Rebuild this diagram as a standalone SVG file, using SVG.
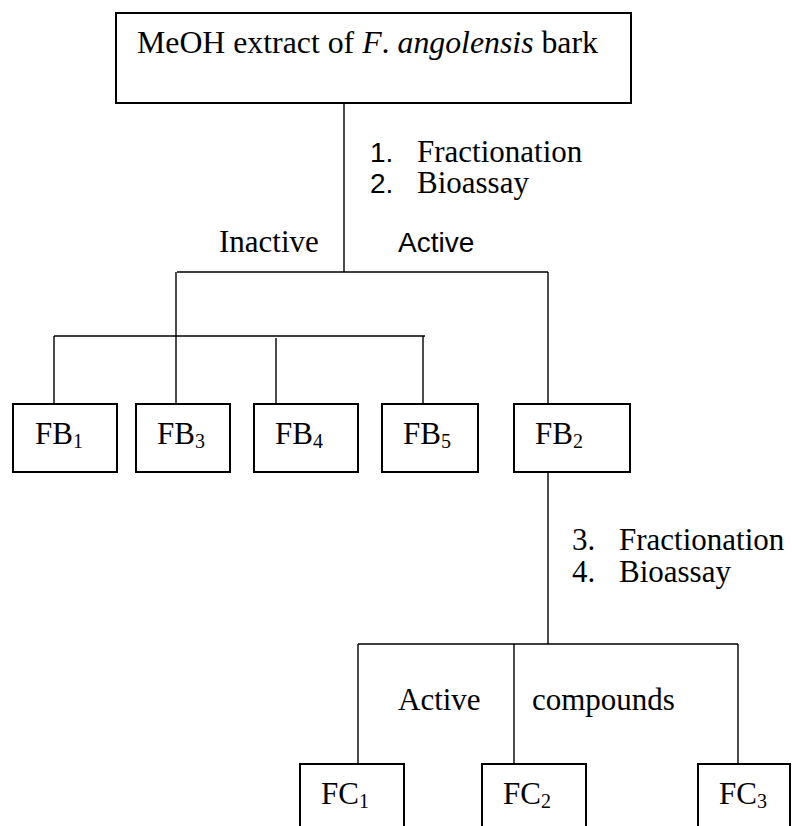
<svg xmlns="http://www.w3.org/2000/svg" width="792" height="826" viewBox="0 0 792 826">
<style>
.box{fill:#fff;stroke:#000;stroke-width:2}
.ln{fill:none;stroke:#000;stroke-width:1.4}
.t{font-family:"Liberation Serif","Times New Roman",serif;font-size:31px;fill:#000}
.s{font-family:"Liberation Sans",Arial,sans-serif;font-size:28px;fill:#000}
.sub{font-size:20px}
</style>
<rect width="792" height="826" fill="#fff"/>
<g id="connectors">
<path class="ln" d="M344 103V272M177 272H548M548 272V404"/>
<path class="ln" d="M54 336H425M54 336V404M176 272V404M276 338V404M423 336V404"/>
<path class="ln" d="M548 472V644M358 644H738M358 644V764M514 644V764M738 644V764"/>
</g>
<g id="labels">
<text class="s" x="370" y="162">1.</text>
<text class="t" x="417" y="162">Fractionation</text>
<text class="s" x="370" y="193">2.</text>
<text class="t" x="417" y="193">Bioassay</text>
<text class="t" x="219" y="252">Inactive</text>
<text class="s" x="398" y="252">Active</text>
<text class="t" x="572" y="550">3.</text>
<text class="t" x="619" y="550">Fractionation</text>
<text class="t" x="572" y="582">4.</text>
<text class="t" x="619" y="582">Bioassay</text>
<text class="t" x="398" y="710">Active</text>
<text class="t" x="532" y="710">compounds</text>
</g>
<g id="root">
<rect class="box" x="116" y="13" width="515" height="90"/>
<text class="t" x="137" y="53" style="font-size:31.8px">MeOH extract of <tspan font-style="italic">F</tspan>. <tspan font-style="italic">angolensis</tspan> bark</text>
</g>
<g id="FB1"><rect class="box" x="13" y="404" width="104" height="68"/><text class="t" x="35" y="444">FB<tspan class="sub" dy="4">1</tspan></text></g>
<g id="FB3"><rect class="box" x="136" y="404" width="94" height="68"/><text class="t" x="157" y="444">FB<tspan class="sub" dy="4">3</tspan></text></g>
<g id="FB4"><rect class="box" x="254" y="404" width="104" height="68"/><text class="t" x="275" y="444">FB<tspan class="sub" dy="4">4</tspan></text></g>
<g id="FB5"><rect class="box" x="382" y="404" width="96" height="68"/><text class="t" x="403" y="444">FB<tspan class="sub" dy="4">5</tspan></text></g>
<g id="FB2"><rect class="box" x="514" y="404" width="116" height="68"/><text class="t" x="535" y="444">FB<tspan class="sub" dy="4">2</tspan></text></g>
<g id="FC1"><rect class="box" x="300" y="764" width="104" height="80"/><text class="t" x="321" y="804">FC<tspan class="sub" dy="4">1</tspan></text></g>
<g id="FC2"><rect class="box" x="482" y="764" width="104" height="80"/><text class="t" x="503" y="804">FC<tspan class="sub" dy="4">2</tspan></text></g>
<g id="FC3"><rect class="box" x="698" y="764" width="92" height="80"/><text class="t" x="719" y="804">FC<tspan class="sub" dy="4">3</tspan></text></g>
</svg>
